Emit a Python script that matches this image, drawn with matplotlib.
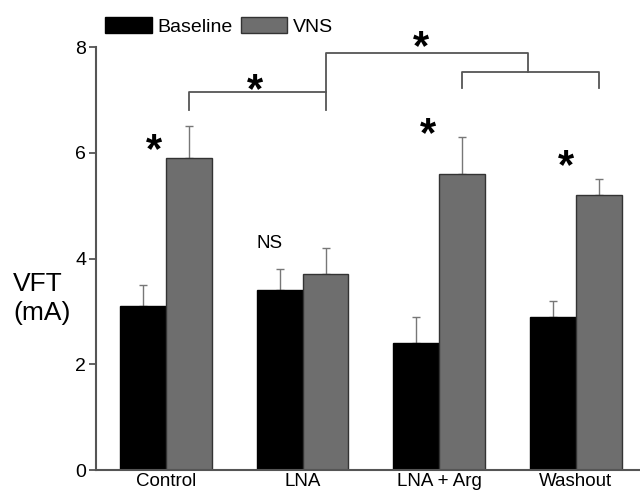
import numpy as np
import matplotlib
matplotlib.use("Agg")
import matplotlib.pyplot as plt
from matplotlib.patches import Patch

plt.rcParams["font.family"] = ["Liberation Sans", "DejaVu Sans"]

groups = ["Control", "LNA", "LNA + Arg", "Washout"]
baseline = [3.1, 3.4, 2.4, 2.9]
baseline_err = [0.4, 0.4, 0.5, 0.3]
vns = [5.9, 3.7, 5.6, 5.2]
vns_err = [0.6, 0.5, 0.7, 0.3]

fig = plt.figure(figsize=(6.4, 4.95), dpi=100)
ax = fig.add_axes([0.15, 0.0505, 0.85, 0.8545])

x = np.arange(len(groups))
w = 0.336
ekw = dict(elinewidth=1, capthick=1, zorder=1)
ax.bar(x - w / 2, baseline, w, color="black", edgecolor="black", lw=1,
       yerr=[np.zeros(4), baseline_err], ecolor="#777", capsize=3,
       error_kw=ekw, zorder=2)
ax.bar(x + w / 2, vns, w, color="#6e6e6e", edgecolor="#333", lw=1,
       yerr=[np.zeros(4), vns_err], ecolor="#777", capsize=3,
       error_kw=ekw, zorder=2)

ax.set_xlim(-0.512, 3.47)
ax.set_ylim(0, 8)
ax.set_yticks([0, 2, 4, 6, 8])
ax.set_xticks(x)
ax.set_xticklabels(groups)
ax.tick_params(axis="x", length=0, pad=2, labelsize=13.5)
ax.tick_params(axis="y", length=5, width=1.3, color="#555", labelsize=14, pad=2)
for s in ["top", "right"]:
    ax.spines[s].set_visible(False)
for s in ["left", "bottom"]:
    ax.spines[s].set_color("#555")
    ax.spines[s].set_linewidth(1.5)

ax.text(-1.12, 3.25, "VFT\n(mA)", fontsize=19, ha="left", va="center",
        linespacing=1.25, clip_on=False)

# significance brackets
lc = "#555"
xv = x + w / 2
ax.plot([xv[0], xv[0], xv[1]], [6.8, 7.15, 7.15], color=lc, lw=1.3, clip_on=False)
ax.plot([xv[1], xv[1], 2.65, 2.65], [6.8, 7.88, 7.88, 7.52], color=lc, lw=1.3,
        clip_on=False)
ax.plot([xv[2], xv[2], xv[3], xv[3]], [7.22, 7.52, 7.52, 7.22], color=lc, lw=1.3,
        clip_on=False)

star = dict(fontsize=30, fontweight="bold", ha="center", va="center", clip_on=False)
ax.text(0.65, 7.17, "*", **star)
ax.text(1.87, 7.98, "*", **star)
ax.text(-0.09, 6.03, "*", **star)
ax.text(1.92, 6.33, "*", **star)
ax.text(2.93, 5.73, "*", **star)
ax.text(0.76, 4.29, "NS", fontsize=13.5, ha="center", va="center")

handles = [Patch(facecolor="black", edgecolor="black"),
           Patch(facecolor="#6e6e6e", edgecolor="#333")]
fig.legend(handles, ["Baseline", "VNS"], loc="upper left",
           bbox_to_anchor=(0.143, 0.993), ncol=2, frameon=False, fontsize=14,
           handlelength=2.4, handleheight=0.9, handletextpad=0.3,
           columnspacing=0.4, borderaxespad=0.3)

fig.savefig("out.png", dpi=100)
